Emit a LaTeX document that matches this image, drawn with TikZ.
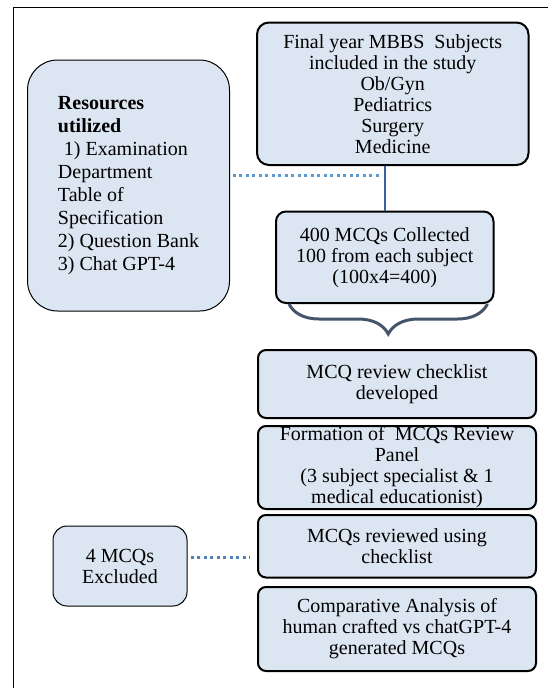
\documentclass[tikz,border=0pt]{standalone}
\usepackage{fontspec}
\setmainfont{Liberation Serif}
\usepackage{xcolor}
\usepackage{tikz}
\usetikzlibrary{
    calc,
    decorations.pathreplacing
}
\definecolor{boxfill}{RGB}{220,230,242}
\definecolor{dotblue}{RGB}{91,155,213}
\definecolor{dotdark}{RGB}{79,129,189}
\definecolor{linkblue}{RGB}{59,95,160}
\definecolor{bracegray}{RGB}{68,84,106}

\begin{document}
\begin{tikzpicture}[
    x=1pt, y=-1pt,
    box/.style={draw, line width=2pt, fill=boxfill, rounded corners=8pt, inner sep=0pt,
        align=center, font=\fontsize{20}{21}\selectfont},
    softbox/.style={draw, line width=1pt, fill=boxfill, inner sep=0pt,
        font=\fontsize{20}{21}\selectfont},
    frame/.style={line width=1pt},
    dotline/.style={line width=3pt, dash pattern=on 3pt off 3.5pt},
    link/.style={draw=linkblue, line width=2pt},
    bracket/.style={draw=bracegray, line width=3pt, decorate,
        decoration={brace, mirror, amplitude=30pt}}
]
\useasboundingbox (0,0) rectangle (548,688);

% Marco
\draw[frame] (13.5,688) -- (13.5,7.5) -- (548,7.5);

% Cajas
\node[box, rounded corners=12pt, minimum width=271.5pt, minimum height=142.5pt] (subj) at (392.75,93.75)
    {Final year MBBS~ Subjects\\ included in the study\\ Ob/Gyn\\ Pediatrics\\ Surgery\\ Medicine};
\node[softbox, rounded corners=30pt, minimum width=202pt, minimum height=251pt,
    align=left, font=\fontsize{20}{23}\selectfont] (res) at (128.5,185.5)
    {\textbf{Resources}\\ \textbf{utilized}\\ \hspace*{0.3em}1) Examination\\ Department\\ Table of\\ Specification\\ 2) Question Bank\\ 3) Chat GPT-4};
\node[box, rounded corners=10pt, minimum width=217.5pt, minimum height=91.5pt] (mcq) at (384.75,257.25)
    {400 MCQs Collected\\ 100 from each subject\\ (100x4=400)};
\node[box, minimum width=278pt, minimum height=68pt] (chk) at (397,384)
    {MCQ review checklist\\ developed};
\node[box, minimum width=278pt, minimum height=83pt] (panel) at (397,467.5)
    {Formation of~ MCQs Review\\ Panel\\ (3 subject specialist \& 1\\ medical educationist)};
\node[box, minimum width=278pt, minimum height=62.5pt] (rev) at (397,546.25)
    {MCQs reviewed using\\ checklist};
\node[box, minimum width=278pt, minimum height=84pt] (comp) at (397,629)
    {Comparative Analysis of\\ human crafted vs chatGPT-4\\ generated MCQs};
\node[softbox, rounded corners=14pt, minimum width=134pt, minimum height=80pt, align=center] (excl) at (120,566)
    {4 MCQs\\ Excluded};

% Conexiones
\coordinate (jn) at (380,175);
\coordinate (jx) at (250,557);
\draw[link] (mcq.north) -- (mcq.north |- subj.south);
\draw[dotline, draw=dotblue] ($(res.east |- jn)+(2.5,0)$) -- (jn);
\draw[dotline, draw=dotdark] ($(excl.east |- jx)+(3,0)$) -- (jx);

% Llave
\draw[bracket] ($(mcq.south west)+(14,0)$) -- ($(mcq.south east)+(-7,0)$);

\end{tikzpicture}
\end{document}
